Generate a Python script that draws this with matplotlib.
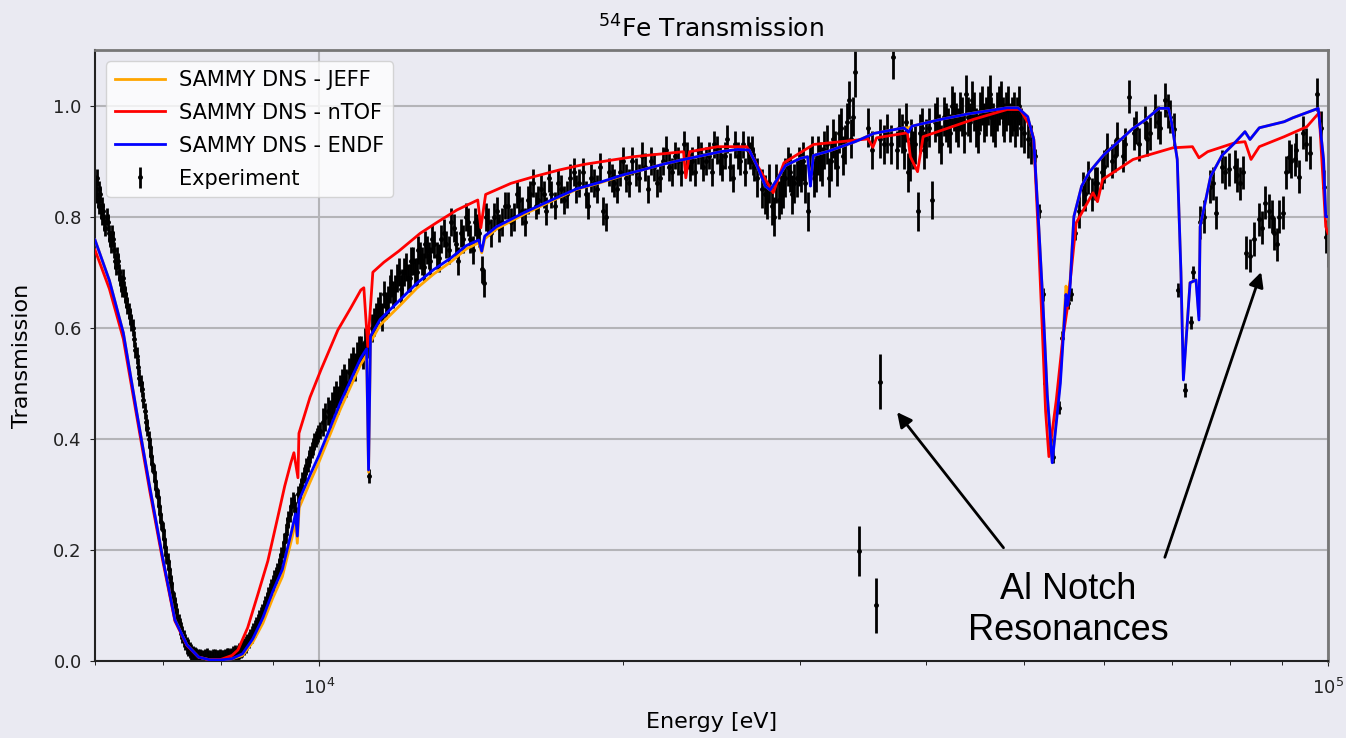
import matplotlib
matplotlib.use("Agg")
import matplotlib.pyplot as plt

# SAMMY DNS 理论曲线
endf_energy = [6000, 6200, 6400, 6600, 6800, 7000, 7200, 7400, 7600, 7800, 8000, 8200,
               8400, 8600, 8800, 9000, 9200, 9400, 9480, 9520, 9560, 9800, 10000, 10500,
               11000, 11150, 11200, 11250, 11500, 12000, 12500, 13000, 13500, 14000, 14400,
               14500, 14600, 15000, 16000, 17000, 18000, 19000, 20000, 21000, 22000, 23000,
               24000, 25000, 26000, 26700, 27200, 27700, 28000, 28400, 29000, 30000, 30500,
               30700, 30900, 32000, 34000, 35500, 38000, 38400, 38700, 41300, 44000, 48100,
               49300, 50400, 51100, 51700, 52200, 52700, 53300, 54300, 55000, 55200, 55500,
               56000, 57000, 58000, 60000, 62000, 64000, 66000, 68000, 69500, 70000, 70900,
               71500, 71900, 73000, 74000, 74500, 74700, 76500, 78500, 80850, 82750, 83700,
               85500, 90500, 92300, 97800, 99000, 99500, 100000]
endf_T = [0.758, 0.685, 0.591, 0.447, 0.312, 0.187, 0.074, 0.029, 0.007, 0.002, 0.002, 0.004,
          0.013, 0.040, 0.078, 0.125, 0.165, 0.235, 0.265, 0.225, 0.290, 0.335, 0.370, 0.465,
          0.545, 0.562, 0.344, 0.585, 0.615, 0.648, 0.680, 0.705, 0.725, 0.748, 0.758,
          0.738, 0.765, 0.782, 0.808, 0.830, 0.850, 0.862, 0.875, 0.885, 0.895, 0.903,
          0.910, 0.917, 0.921, 0.920, 0.890, 0.855, 0.848, 0.865, 0.892, 0.905, 0.908,
          0.855, 0.910, 0.918, 0.935, 0.950, 0.960, 0.952, 0.963, 0.975, 0.985, 0.996,
          0.996, 0.980, 0.939, 0.780, 0.640, 0.480, 0.357, 0.500, 0.660, 0.640, 0.670,
          0.800, 0.855, 0.880, 0.912, 0.935, 0.958, 0.975, 0.995, 0.995, 0.969, 0.903,
          0.700, 0.506, 0.681, 0.686, 0.614, 0.782, 0.872, 0.910, 0.933, 0.953, 0.939,
          0.960, 0.971, 0.978, 0.995, 0.903, 0.800, 0.800]
jeff_T = [0.758, 0.685, 0.591, 0.447, 0.312, 0.187, 0.074, 0.029, 0.007, 0.002, 0.002, 0.004,
          0.010, 0.034, 0.068, 0.113, 0.152, 0.220, 0.250, 0.212, 0.276, 0.322, 0.358, 0.453,
          0.534, 0.551, 0.340, 0.574, 0.605, 0.638, 0.671, 0.697, 0.718, 0.742, 0.753,
          0.735, 0.760, 0.778, 0.805, 0.828, 0.849, 0.861, 0.874, 0.885, 0.895, 0.903,
          0.910, 0.917, 0.921, 0.920, 0.890, 0.855, 0.848, 0.865, 0.892, 0.905, 0.908,
          0.860, 0.910, 0.918, 0.935, 0.950, 0.960, 0.960, 0.963, 0.975, 0.985, 0.996,
          0.996, 0.980, 0.939, 0.780, 0.640, 0.480, 0.360, 0.510, 0.675, 0.660, 0.680,
          0.800, 0.855, 0.880, 0.912, 0.935, 0.958, 0.975, 0.995, 0.995, 0.969, 0.903,
          0.700, 0.510, 0.681, 0.686, 0.620, 0.782, 0.872, 0.910, 0.933, 0.953, 0.939,
          0.960, 0.971, 0.978, 0.995, 0.903, 0.800, 0.800]

ntof_energy = [6000, 6200, 6400, 6600, 6800, 7000, 7200, 7400, 7600, 7800, 8000, 8200,
               8314, 8500, 8700, 8900, 9107, 9250, 9381, 9446, 9533, 9555, 9800, 10046,
               10443, 10757, 11005, 11080, 11180, 11310, 11600, 12000, 12600, 13100, 13700, 14370,
               14470, 14630, 15500, 16330, 17300, 18300, 20510, 22980, 23100, 23300, 24840, 26550,
               27240, 28200, 28900, 30920, 35000, 35400, 35700, 38300, 38560, 39200, 39700, 44500,
               48100, 49550, 50700, 51100, 51600, 52100, 52500, 52900, 53800, 54600, 55200, 56300,
               58500, 59100, 59800, 64100, 70200, 73400, 74500, 76000, 80850, 82750, 83900, 85500,
               90500, 95300, 97000, 98000, 99500, 100000]
ntof_T = [0.740, 0.670, 0.580, 0.440, 0.305, 0.182, 0.072, 0.028, 0.007, 0.002, 0.003, 0.010,
          0.020, 0.060, 0.120, 0.180, 0.260, 0.315, 0.357, 0.375, 0.330, 0.410, 0.475, 0.524,
          0.596, 0.636, 0.668, 0.672, 0.566, 0.700, 0.718, 0.738, 0.770, 0.790, 0.812, 0.830,
          0.780, 0.840, 0.860, 0.872, 0.884, 0.894, 0.908, 0.917, 0.870, 0.917, 0.926, 0.926,
          0.890, 0.843, 0.897, 0.930, 0.940, 0.925, 0.942, 0.951, 0.908, 0.881, 0.944, 0.975,
          0.993, 0.993, 0.962, 0.939, 0.780, 0.600, 0.450, 0.368, 0.470, 0.580, 0.638, 0.789,
          0.843, 0.827, 0.867, 0.903, 0.924, 0.926, 0.906, 0.917, 0.933, 0.935, 0.903, 0.926,
          0.944, 0.962, 0.978, 0.987, 0.782, 0.770]

# 实验数据，按能区分组
# 6-10 keV 大共振区
exp_low_E = [6020, 6040, 6060, 6080, 6100, 6130, 6160, 6190, 6220, 6250, 6280, 6310,
             6340, 6370, 6400, 6430, 6460, 6500, 6540, 6580, 6620, 6660, 6700, 6740,
             6780, 6820, 6860, 6900, 6940, 6980, 7020, 7060, 7100, 7140, 7180, 7220,
             7260, 7300, 7350, 7400, 7450, 7500, 7560, 7620, 7680, 7740, 7800, 7860,
             7920, 7980, 8040, 8100, 8160, 8220, 8280, 8340, 8400, 8460, 8520, 8580,
             8640, 8700, 8760, 8820, 8880, 8940, 9000, 9060, 9120, 9180, 9240, 9300,
             9360, 9420, 9480, 9540, 9600, 9660, 9720, 9780, 9840, 9900, 9960, 10020]
exp_low_T = [0.86, 0.83, 0.85, 0.81, 0.82, 0.79, 0.80, 0.77, 0.75, 0.76, 0.72, 0.73,
             0.70, 0.68, 0.69, 0.66, 0.64, 0.62, 0.60, 0.56, 0.53, 0.50, 0.47, 0.43,
             0.40, 0.37, 0.34, 0.31, 0.28, 0.25, 0.22, 0.19, 0.165, 0.14, 0.11, 0.09,
             0.07, 0.055, 0.04, 0.028, 0.02, 0.012, 0.008, 0.006, 0.005, 0.008, 0.004, 0.006,
             0.004, 0.007, 0.005, 0.009, 0.006, 0.012, 0.010, 0.018, 0.022, 0.030, 0.038, 0.048,
             0.058, 0.070, 0.082, 0.095, 0.110, 0.125, 0.140, 0.155, 0.170, 0.190, 0.215, 0.245,
             0.265, 0.290, 0.270, 0.300, 0.315, 0.335, 0.350, 0.365, 0.380, 0.395, 0.405, 0.415]
exp_low2_E = [6010, 6030, 6050, 6070, 6090, 6115, 6145, 6175, 6205, 6235, 6265, 6295,
              6325, 6355, 6385, 6415, 6445, 6480, 6520, 6560, 6600, 6640, 6680, 6720,
              6760, 6800, 6840, 6880, 6920, 6960, 7000, 7040, 7080, 7120, 7160, 7200,
              7240, 7280, 7325, 7375, 7425, 7475, 7530, 7590, 7650, 7710, 7770, 7830,
              7890, 7950, 8010, 8070, 8130, 8190, 8250, 8310, 8370, 8430, 8490, 8550,
              8610, 8670, 8730, 8790, 8850, 8910, 8970, 9030, 9090, 9150, 9210, 9270,
              9330, 9390, 9450, 9510, 9570, 9630, 9690, 9750, 9810, 9870, 9930, 9990]
exp_low2_T = [0.84, 0.87, 0.82, 0.84, 0.80, 0.81, 0.78, 0.79, 0.76, 0.77, 0.74, 0.71,
              0.72, 0.69, 0.67, 0.67, 0.65, 0.63, 0.61, 0.58, 0.55, 0.51, 0.49, 0.45,
              0.42, 0.385, 0.355, 0.325, 0.295, 0.265, 0.235, 0.205, 0.18, 0.15, 0.125, 0.10,
              0.08, 0.062, 0.048, 0.034, 0.024, 0.016, 0.010, 0.007, 0.004, 0.006, 0.005, 0.003,
              0.006, 0.005, 0.004, 0.007, 0.008, 0.009, 0.014, 0.014, 0.020, 0.026, 0.034, 0.043,
              0.053, 0.064, 0.076, 0.088, 0.102, 0.118, 0.132, 0.148, 0.162, 0.180, 0.200, 0.228,
              0.255, 0.280, 0.285, 0.262, 0.305, 0.325, 0.340, 0.355, 0.372, 0.386, 0.400, 0.410]
exp_low_err = 0.015

# 10-27 keV
exp_mid_E = [10100, 10200, 10300, 10400, 10500, 10600, 10700, 10800, 10900, 11000, 11100,
             11300, 11400, 11500, 11600, 11700, 11800, 11900, 12000, 12100, 12200,
             12300, 12400, 12500, 12600, 12700, 12800, 12900, 13000, 13150, 13300, 13450,
             13600, 13750, 13900, 14050, 14200, 14350, 14500, 14650, 14800, 15000, 15200,
             15400, 15600, 15800, 16000, 16200, 16400, 16600, 16800, 17000, 17250, 17500,
             17750, 18000, 18250, 18500, 18750, 19000, 19250, 19500, 19750, 20000, 20300,
             20600, 20900, 21200, 21500, 21800, 22100, 22400, 22700, 23000, 23300, 23600,
             23900, 24200, 24500, 24800, 25100, 25400, 25700, 26000, 26300, 26600, 26900]
exp_mid_T = [0.430, 0.450, 0.460, 0.480, 0.490, 0.510, 0.520, 0.540, 0.550, 0.560, 0.575,
             0.600, 0.620, 0.640, 0.660, 0.650, 0.680, 0.670, 0.700, 0.680, 0.710,
             0.690, 0.720, 0.700, 0.730, 0.710, 0.740, 0.720, 0.750, 0.725, 0.770, 0.740,
             0.780, 0.720, 0.760, 0.790, 0.740, 0.780, 0.705, 0.800, 0.770, 0.810, 0.790,
             0.820, 0.800, 0.830, 0.790, 0.840, 0.820, 0.850, 0.810, 0.840, 0.860, 0.830,
             0.870, 0.850, 0.880, 0.820, 0.860, 0.890, 0.800, 0.870, 0.850, 0.900, 0.860,
             0.880, 0.910, 0.850, 0.890, 0.870, 0.920, 0.880, 0.900, 0.930, 0.890, 0.880,
             0.910, 0.900, 0.880, 0.920, 0.890, 0.940, 0.870, 0.910, 0.930, 0.920, 0.900]
exp_mid2_E = [10150, 10250, 10350, 10450, 10550, 10650, 10750, 10850, 10950, 11050, 11150,
              11350, 11450, 11550, 11650, 11750, 11850, 11950, 12050, 12150, 12250, 12350,
              12450, 12550, 12650, 12750, 12850, 12950, 13080, 13220, 13380, 13520, 13680,
              13820, 13980, 14120, 14280, 14420, 14580, 14720, 14900, 15100, 15300, 15500,
              15700, 15900, 16100, 16300, 16500, 16700, 16900, 17120, 17380, 17620, 17880,
              18120, 18380, 18620, 18880, 19120, 19380, 19620, 19880, 20150, 20450, 20750,
              21050, 21350, 21650, 21950, 22250, 22550, 22850, 23150, 23450, 23750, 24050,
              24350, 24650, 24950, 25250, 25550, 25850, 26150, 26450, 26750, 27000, 26850]
exp_mid2_T = [0.440, 0.445, 0.470, 0.470, 0.500, 0.500, 0.530, 0.530, 0.560, 0.550, 0.570,
              0.610, 0.630, 0.620, 0.640, 0.670, 0.660, 0.690, 0.670, 0.700, 0.690, 0.720,
              0.700, 0.740, 0.720, 0.750, 0.730, 0.760, 0.730, 0.760, 0.750, 0.790, 0.750,
              0.770, 0.800, 0.760, 0.790, 0.770, 0.680, 0.790, 0.800, 0.780, 0.820, 0.790,
              0.840, 0.810, 0.830, 0.860, 0.830, 0.840, 0.870, 0.820, 0.850, 0.840, 0.880,
              0.860, 0.840, 0.870, 0.850, 0.810, 0.880, 0.860, 0.880, 0.870, 0.900, 0.870,
              0.890, 0.900, 0.860, 0.900, 0.890, 0.910, 0.880, 0.910, 0.900, 0.920, 0.890,
              0.910, 0.930, 0.900, 0.910, 0.890, 0.930, 0.900, 0.880, 0.910, 0.890, 0.920]
exp_mid_err = 0.025

# 27-51 keV
exp_high_E = [27200, 27500, 27800, 28100, 28400, 28700, 29000, 29300, 29600, 29900, 30200,
              30500, 30800, 31100, 31400, 31700, 32000, 32300, 32600, 32900, 33200, 33500,
              33800, 36300, 36600, 37400, 37800, 38200, 38500, 38800, 39270, 39600, 40000,
              40540, 40800, 41200, 41600, 42000, 42400, 42800, 43200, 43600, 44000, 44400,
              44800, 45200, 45600, 46000, 46400, 46800, 47200, 47600, 48000, 48400, 48800,
              49200, 49600, 50000, 50400, 50800]
exp_high_T = [0.870, 0.850, 0.830, 0.820, 0.860, 0.840, 0.870, 0.880, 0.860, 0.890, 0.900,
              0.810, 0.910, 0.880, 0.900, 0.920, 0.870, 0.940, 0.890, 0.960, 0.930, 1.010,
              0.980, 0.930, 0.950, 0.920, 0.950, 0.970, 0.900, 0.920, 0.810, 0.960, 0.940,
              0.830, 0.970, 0.950, 0.980, 0.960, 1.000, 0.970, 0.990, 0.950, 0.980, 1.010,
              0.960, 0.990, 0.970, 1.000, 0.980, 0.960, 1.000, 0.980, 0.990, 0.970, 0.990,
              0.980, 0.960, 0.950, 0.940, 0.930]
exp_high2_E = [27650, 27950, 28250, 28550, 28850, 29150, 29450, 29750, 30050, 30350, 30650,
               30950, 31250, 31550, 31850, 32150, 32450, 32750, 33050, 33350, 33650, 35000,
               35300, 36000, 36900, 37600, 38000, 38350, 38650, 39000, 39400, 39800, 40200,
               41000, 41400, 41800, 42200, 42600, 43000, 43400, 43800, 44200, 44600, 45000,
               45400, 45800, 46200, 46600, 47000, 47400, 47800, 48200, 48600, 49000, 49400]
exp_high2_T = [0.840, 0.860, 0.800, 0.830, 0.850, 0.890, 0.840, 0.870, 0.880, 0.860, 0.890,
               0.870, 0.910, 0.890, 0.930, 0.900, 0.920, 0.950, 0.910, 0.970, 0.940, 0.960,
               0.920, 0.940, 0.930, 0.960, 0.920, 0.880, 0.940, 0.930, 0.950, 0.920, 0.960,
               0.980, 0.930, 0.970, 0.950, 0.990, 0.960, 0.980, 1.020, 0.970, 0.990, 0.950,
               1.000, 0.980, 1.020, 0.970, 0.990, 1.010, 0.970, 1.000, 0.980, 0.960, 1.000]
exp_high_err = 0.035

# 56-100 keV
exp_top_E = [56600, 57200, 57800, 58400, 59000, 59700, 60400, 61100, 61800, 62600, 63500,
             64200, 65000, 65800, 66600, 67400, 68200, 69000, 69800, 70400, 74700, 75300,
             76400, 77500, 78600, 79800, 80800, 81800, 83000, 83700, 85500, 86700, 87500,
             88500, 89500, 90300, 91500, 92700, 93500, 94500, 96000, 97600, 99200, 99500,
             99900, 84500, 86000, 88000, 89000, 57500, 58700, 60000, 61500, 63000, 64600,
             66200, 67800, 69400, 77000, 79000, 81200, 82400, 90800, 92000, 93000, 95200,
             98500]
exp_top_T = [0.810, 0.850, 0.870, 0.840, 0.860, 0.880, 0.920, 0.900, 0.940, 0.910, 1.016,
             0.950, 0.930, 0.970, 0.950, 0.990, 0.960, 1.010, 0.980, 0.957, 0.790, 0.800,
             0.854, 0.807, 0.890, 0.885, 0.890, 0.860, 0.735, 0.730, 0.795, 0.825, 0.810,
             0.770, 0.800, 0.807, 0.908, 0.903, 0.872, 0.951, 0.915, 1.020, 0.854, 0.764,
             0.740, 0.760, 0.780, 0.800, 0.750, 0.840, 0.860, 0.890, 0.910, 0.930, 0.960,
             0.940, 0.970, 0.990, 0.860, 0.880, 0.875, 0.880, 0.880, 0.900, 0.920, 0.930,
             0.960]
exp_top_err = 0.03

# 共振谷底的点 (误差小)
exp_dip_E = [11210, 51300, 51700, 52200, 52460, 53190, 53440, 54080, 54540, 55250, 55600,
             56150, 71000, 72100, 73100, 73500]
exp_dip_T = [0.333, 0.910, 0.810, 0.660, 0.500, 0.389, 0.368, 0.456, 0.582, 0.645, 0.660,
             0.770, 0.668, 0.488, 0.610, 0.700]
exp_dip_err = 0.012

# Al 缺口造成的离群点
exp_al_E = [34020, 34320, 35640, 35980, 37100]
exp_al_T = [1.060, 0.198, 0.100, 0.503, 1.088]
exp_al_err = [0.045, 0.045, 0.050, 0.050, 0.040]

BG = "#eaeaf2"

fig = plt.figure(figsize=(13.46, 7.38), dpi=100, facecolor=BG)
ax = fig.add_axes([0.0706, 0.1043, 0.916, 0.8279], facecolor=BG)

ebar = dict(fmt=".", color="black", ms=5, elinewidth=2, capsize=0, zorder=2)
groups = [(exp_low_E, exp_low_T, exp_low_err), (exp_low2_E, exp_low2_T, exp_low_err),
          (exp_mid_E, exp_mid_T, exp_mid_err), (exp_mid2_E, exp_mid2_T, exp_mid_err),
          (exp_high_E, exp_high_T, exp_high_err), (exp_high2_E, exp_high2_T, exp_high_err),
          (exp_top_E, exp_top_T, exp_top_err), (exp_dip_E, exp_dip_T, exp_dip_err),
          (exp_al_E, exp_al_T, exp_al_err)]
for i, (e, t, err) in enumerate(groups):
    ax.errorbar(e, t, yerr=err, label="Experiment" if i == 0 else None, **ebar)

ax.plot(endf_energy, jeff_T, color="orange", lw=2, label="SAMMY DNS - JEFF", zorder=3)
ax.plot(ntof_energy, ntof_T, color="red", lw=2, label="SAMMY DNS - nTOF", zorder=4)
ax.plot(endf_energy, endf_T, color="blue", lw=2, label="SAMMY DNS - ENDF", zorder=5)

ax.set_xscale("log")
ax.set_xlim(6000, 1e5)
ax.set_ylim(0, 1.1)
ax.set_yticks([0.0, 0.2, 0.4, 0.6, 0.8, 1.0])
ax.grid(True, which="major", color="#b4b4b8", lw=1.5)
ax.set_axisbelow(True)
ax.tick_params(labelsize=13, colors="#222222", pad=6)
ax.tick_params(axis="x", pad=9)
ax.tick_params(which="minor", length=3)
for side in ("left", "bottom"):
    ax.spines[side].set_color("#222222")
    ax.spines[side].set_linewidth(1.5)
for side in ("top", "right"):
    ax.spines[side].set_color("#777777")
    ax.spines[side].set_linewidth(2)

ax.set_title(r"$^{54}$Fe Transmission", fontsize=18, pad=9)
ax.set_xlabel("Energy [eV]", fontsize=16, labelpad=10)
ax.set_ylabel("Transmission", fontsize=16, labelpad=15)

handles, labels = ax.get_legend_handles_labels()
order = [labels.index(n) for n in ("SAMMY DNS - JEFF", "SAMMY DNS - nTOF",
                                   "SAMMY DNS - ENDF", "Experiment")]
ax.legend([handles[i] for i in order], [labels[i] for i in order],
          loc="upper left", fontsize=15, framealpha=0.8, handlelength=2.4,
          handletextpad=0.7, borderaxespad=0.55, labelspacing=0.62)

# Al 缺口共振标注
ax.text(55280, 0.092, "Al Notch\nResonances", ha="center", va="center",
        fontsize=26, family="Liberation Sans", linespacing=1.25)
arrow = dict(arrowstyle="-|>", color="black", lw=2, mutation_scale=22)
ax.annotate("", xy=(37260, 0.452), xytext=(47880, 0.2), arrowprops=arrow)
ax.annotate("", xy=(86030, 0.705), xytext=(68780, 0.182), arrowprops=arrow)

plt.savefig("out.png", dpi=100, facecolor=BG)
